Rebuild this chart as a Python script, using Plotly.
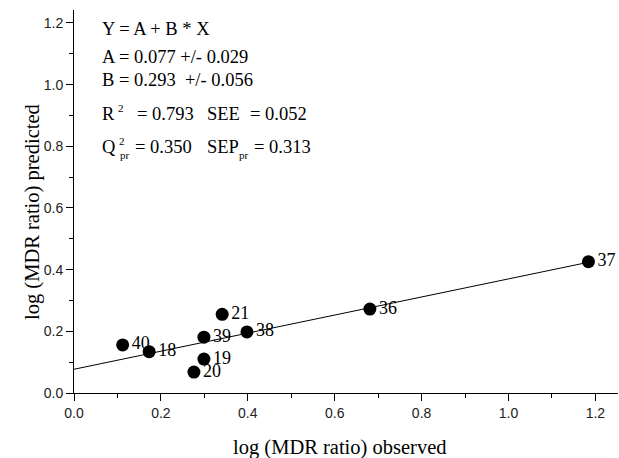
import plotly.graph_objects as go

# Compound numbers and their log(MDR ratio) values
compounds = ["40", "18", "20", "19", "39", "21", "38", "36", "37"]
observed = [0.112, 0.173, 0.276, 0.299, 0.299, 0.341, 0.398, 0.681, 1.184]
predicted = [0.156, 0.134, 0.068, 0.110, 0.181, 0.255, 0.198, 0.272, 0.426]

# Regression coefficients  Y = A + B * X
coef_a = 0.077
coef_b = 0.293

x_ticks = [0.0, 0.2, 0.4, 0.6, 0.8, 1.0, 1.2]
y_ticks = [0.0, 0.2, 0.4, 0.6, 0.8, 1.0, 1.2]

SERIF = "Liberation Serif, Times New Roman, serif"
SANS = "Liberation Sans, Arial, sans-serif"
NB = "\u00a0"

fit_x = [0.0, max(observed)]
fit_y = [coef_a + coef_b * v for v in fit_x]

fig = go.Figure()
fig.add_trace(go.Scatter(
    x=fit_x, y=fit_y, mode="lines",
    line=dict(color="black", width=1), hoverinfo="skip", showlegend=False,
))
fig.add_trace(go.Scatter(
    x=observed, y=predicted, mode="markers+text",
    text=compounds, textposition="middle right",
    textfont=dict(family=SERIF, size=18, color="black"),
    marker=dict(color="black", size=13),
    showlegend=False,
))

axis_common = dict(
    showline=True, linecolor="black", linewidth=1,
    showgrid=False, zeroline=False,
    ticks="outside", ticklen=7, tickcolor="black", tickwidth=1,
    tickfont=dict(family=SANS, size=14, color="#222"),
    tickformat=".1f",
    minor=dict(ticks="outside", ticklen=4, tickcolor="black", dtick=0.1, showgrid=False),
)

fig.update_layout(
    width=619, height=458,
    margin=dict(l=74, r=1, t=10, b=65),
    paper_bgcolor="white", plot_bgcolor="white",
    xaxis=dict(range=[0, 1.252], tickvals=x_ticks, **axis_common),
    yaxis=dict(range=[0, 1.242], tickvals=y_ticks, **axis_common),
)

txt = dict(family=SERIF, size=18.5, color="black")
small = dict(family=SERIF, size=11, color="black")
x0 = 0.06


def note(text, y, font=txt, xshift=0, yshift=0):
    fig.add_annotation(
        x=x0, y=y, xref="x", yref="y", text=text, showarrow=False,
        xanchor="left", yanchor="middle", font=font,
        xshift=xshift, yshift=yshift,
    )


note("Y = A + B * X", 1.181)
note("A = 0.077 +/- 0.029", 1.090)
note(f"B = 0.293 {NB}+/- 0.056", 1.016)

# R^2 / SEE line
y_r = 0.905
note("R", y_r)
note("2", y_r, font=small, xshift=16, yshift=6)
note("= 0.793", y_r, xshift=35)
note("SEE", y_r, xshift=105)
note("= 0.052", y_r, xshift=148)

# Q^2_pr / SEP_pr line
y_q = 0.798
note("Q", y_q)
note("2", y_q, font=small, xshift=17, yshift=6)
note("pr", y_q, font=small, xshift=18, yshift=-8)
note("= 0.350", y_q, xshift=33)
note("SEP", y_q, xshift=105)
note("pr", y_q, font=small, xshift=137, yshift=-8)
note("= 0.313", y_q, xshift=152)

# Axis titles
fig.add_annotation(
    x=0.489, y=-0.141, xref="paper", yref="paper", showarrow=False,
    text="log (MDR ratio) observed", font=dict(family=SERIF, size=20.5, color="black"),
    xanchor="center", yanchor="middle",
)
fig.add_annotation(
    x=-0.0754, y=0.4726, xref="paper", yref="paper", showarrow=False,
    text="log (MDR ratio) predicted", font=dict(family=SERIF, size=20.5, color="black"),
    textangle=-90, xanchor="center", yanchor="middle",
)

fig.write_html("out.html")
